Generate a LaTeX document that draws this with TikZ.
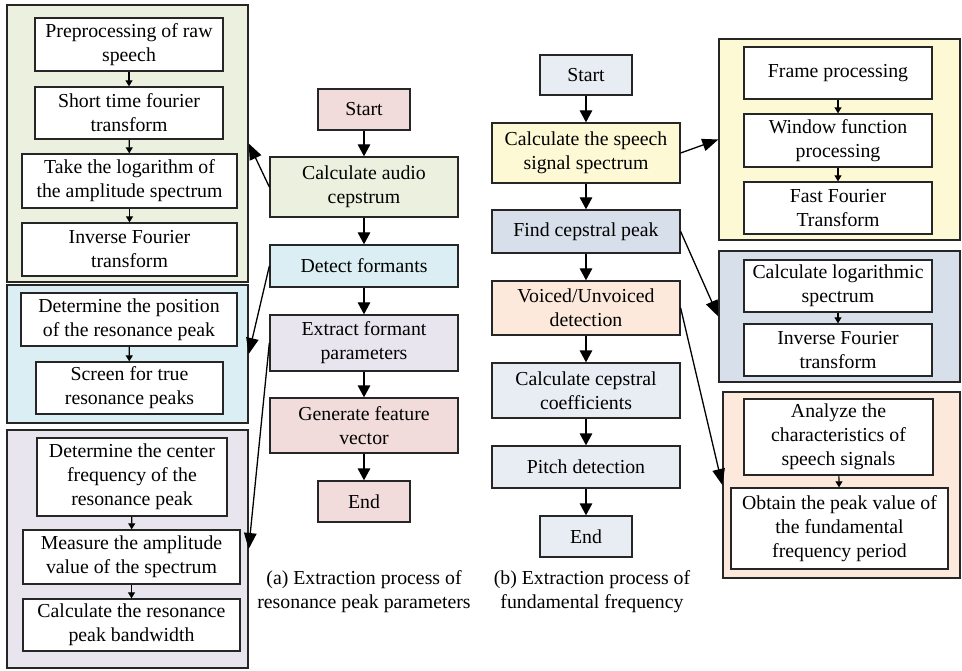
\documentclass[tikz,border=0pt]{standalone}
\usepackage{fontspec}
\setmainfont{Liberation Serif}
\usetikzlibrary{arrows.meta}
\definecolor{lineC}{HTML}{262626}
\definecolor{greenF}{HTML}{EBF1DE}
\definecolor{aquaF}{HTML}{DAEEF3}
\definecolor{purpF}{HTML}{E8E5EF}
\definecolor{pinkF}{HTML}{F2DCDB}
\definecolor{paleF}{HTML}{E8EDF4}
\definecolor{steelF}{HTML}{D6DFEA}
\definecolor{yellowF}{HTML}{FDF9D5}
\definecolor{peachF}{HTML}{FDE9DB}
\tikzset{
  x=1pt, y=-1pt,
  txt/.style={font=\fontsize{19.8}{24}\selectfont, align=center},
  panel/.style={draw=lineC, line width=1.4pt, inner sep=0pt},
  box/.style={txt, draw=lineC, line width=1.3pt, inner sep=0pt},
  sub/.style={box, fill=white},
  big/.style={line width=1.3pt, -{Triangle[length=12pt,width=12.5pt]}},
  cross/.style={line width=1.3pt, -{Triangle[length=16pt,width=12.5pt]}},
  small/.style={line width=1.1pt, -{Triangle[length=6pt,width=7pt]}},
}
\newcommand{\bx}[6]{\node[#1, minimum width=#4pt, minimum height=#5pt] (#2) at (#3) {#6};}
\begin{document}
\begin{tikzpicture}
\useasboundingbox (0,0) rectangle (962,671);

% left detail panels for (a)
\bx{panel, fill=greenF}{gpanel}{127.5,143.5}{241}{277}{}
\bx{sub}{pre}{129,44.5}{188}{53}{Preprocessing of raw\\speech}
\bx{sub}{stft}{129,113}{188}{52}{Short time fourier\\transform}
\bx{sub}{logamp}{129.5,181}{215}{54}{Take the logarithm of\\the amplitude spectrum}
\bx{sub}{ifa}{129.5,249.5}{215}{53}{Inverse Fourier\\transform}

\bx{panel, fill=aquaF}{bpanel}{127.5,354}{241}{138}{}
\bx{sub}{pos}{129,319.5}{216}{53}{Determine the position\\of the resonance peak}
\bx{sub}{screen}{129.5,388}{187}{52}{Screen for true\\resonance peaks}

\bx{panel, fill=purpF}{ppanel}{127.5,549}{241}{238}{}
\bx{sub}{cfreq}{132,477}{190}{78}{Determine the center\\frequency of the\\resonance peak}
\bx{sub}{ampl}{131.5,557}{217}{54}{Measure the amplitude\\value of the spectrum}
\bx{sub}{bw}{131.5,625}{217}{52}{Calculate the resonance\\peak bandwidth}

\draw[small] (pre) -- (stft);
\draw[small] (stft) -- (logamp);
\draw[small] (logamp) -- (ifa);
\draw[small] (pos) -- (screen);
\draw[small] (cfreq) -- (ampl);
\draw[small] (ampl) -- (bw);

% flow (a)
\bx{box, fill=pinkF}{startA}{364,109.5}{92}{41}{Start}
\bx{box, fill=greenF}{cep}{364,187}{188}{60}{Calculate audio\\cepstrum}
\bx{box, fill=aquaF}{det}{364,266}{188}{42}{Detect formants}
\bx{box, fill=purpF}{ext}{364,343}{188}{56}{Extract formant\\parameters}
\bx{box, fill=pinkF}{gen}{364,425.5}{188}{55}{Generate feature\\vector}
\bx{box, fill=pinkF}{endA}{364,501.5}{92}{41}{End}
\node[txt] (capA) at (364,592) {(a) Extraction process of\\resonance peak parameters};

\draw[big] (startA) -- (cep);
\draw[big] (cep) -- (det);
\draw[big] (det) -- (ext);
\draw[big] (ext) -- (gen);
\draw[big] (gen) -- (endA);
\draw[cross] (cep.west) -- (gpanel.east);
\draw[cross] (det.west) -- (bpanel.east);
\draw[cross] (ext.west) -- (ppanel.east);

% flow (b)
\bx{box, fill=paleF}{startB}{586,75}{92}{40}{Start}
\bx{box, fill=yellowF}{spec}{586,153}{188}{60}{Calculate the speech\\signal spectrum}
\bx{box, fill=steelF}{peak}{586,231.5}{188}{43}{Find cepstral peak}
\bx{box, fill=peachF}{voiced}{586,308}{188}{54}{Voiced/Unvoiced\\detection}
\bx{box, fill=paleF}{coef}{586,390.5}{188}{55}{Calculate cepstral\\coefficients}
\bx{box, fill=paleF}{pitch}{586,467}{188}{42}{Pitch detection}
\bx{box, fill=paleF}{endB}{586,536.5}{92}{41}{End}
\node[txt] (capB) at (592,592) {(b) Extraction process of\\fundamental frequency};

\draw[big] (startB) -- (spec);
\draw[big] (spec) -- (peak);
\draw[big] (peak) -- (voiced);
\draw[big] (voiced) -- (coef);
\draw[big] (coef) -- (pitch);
\draw[big] (pitch) -- (endB);

% right detail panels for (b)
\bx{panel, fill=yellowF}{ypanel}{839.5,139.5}{241}{201}{}
\bx{sub}{frame}{838,73}{188}{52}{Frame processing}
\bx{sub}{window}{838,140.5}{188}{53}{Window function\\processing}
\bx{sub}{fft}{838,208}{188}{52}{Fast Fourier\\Transform}

\bx{panel, fill=steelF}{spanel}{839.5,316.5}{241}{131}{}
\bx{sub}{logspec}{838,286}{188}{52}{Calculate logarithmic\\spectrum}
\bx{sub}{ifb}{838,350}{188}{52}{Inverse Fourier\\transform}

\bx{panel, fill=peachF}{opanel}{841.5,485}{237}{186}{}
\bx{sub}{analyze}{838.5,437}{189}{76}{Analyze the\\characteristics of\\speech signals}
\bx{sub}{obtain}{839.5,528.5}{217}{81}{Obtain the peak value of\\the fundamental\\frequency period}

\draw[small] (frame) -- (window);
\draw[small] (window) -- (fft);
\draw[small] (logspec) -- (ifb);
\draw[small] (analyze) -- (obtain);

\draw[cross] (spec.east) -- (ypanel.west);
\draw[cross] (peak.east) -- (spanel.west);
\draw[cross] (voiced.east) -- (opanel.west);
\end{tikzpicture}
\end{document}
